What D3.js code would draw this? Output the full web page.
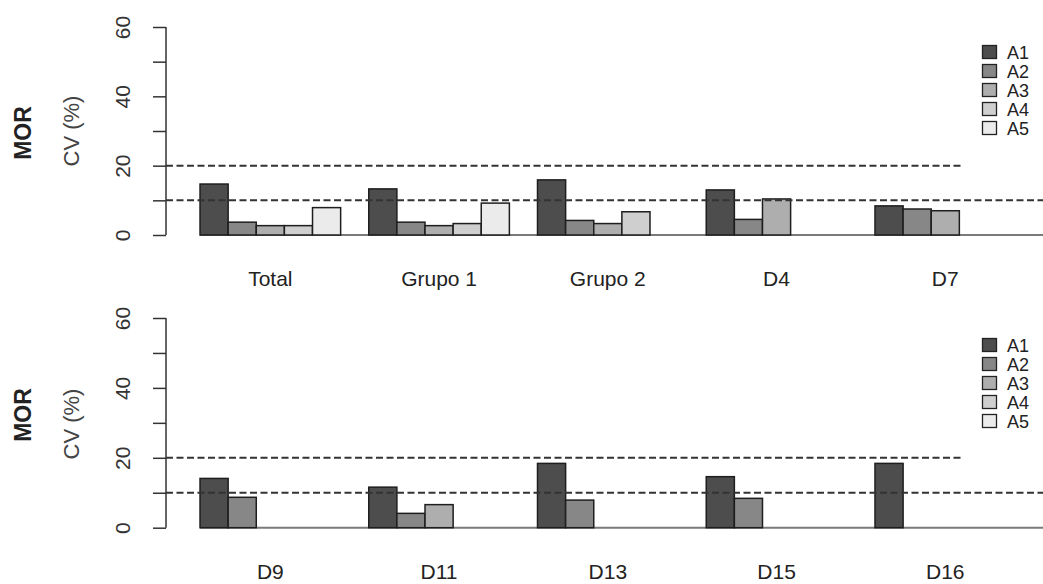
<!DOCTYPE html>
<html>
<head>
<meta charset="utf-8">
<script src="https://cdn.jsdelivr.net/npm/d3@7"></script>
<style>
  html, body { margin: 0; padding: 0; background: #fff; }
  svg { display: block; font-family: "Liberation Sans", Arial, sans-serif; }
</style>
</head>
<body>
<svg id="chart" width="1043" height="584"></svg>
<script>
// Coefficient of variation (%) of MOR by group and series A1–A5
const seriesNames = ["A1", "A2", "A3", "A4", "A5"];
const seriesColors = ["#4d4d4d", "#878787", "#aeaeae", "#cfcfcf", "#ebebeb"];
const yTicks = [0, 10, 20, 30, 40, 50, 60];
const yTickLabels = ["0", "", "20", "", "40", "", "60"];
const refLines = [10, 20];

const categoriesTop = ["Total", "Grupo 1", "Grupo 2", "D4", "D7"];
const a1Top = [14.7, 13.3, 15.9, 13.0, 8.4];
const a2Top = [3.7, 3.7, 4.2, 4.5, 7.5];
const a3Top = [2.7, 2.7, 3.3, 10.4, 7.0];
const a4Top = [2.7, 3.3, 6.7, null, null];
const a5Top = [7.9, 9.2, null, null, null];

const categoriesBottom = ["D9", "D11", "D13", "D15", "D16"];
const a1Bottom = [14.1, 11.6, 18.4, 14.6, 18.4];
const a2Bottom = [8.7, 4.1, 7.9, 8.4, null];
const a3Bottom = [null, 6.6, null, null, null];
const a4Bottom = [null, null, null, null, null];
const a5Bottom = [null, null, null, null, null];

const svg = d3.select("#chart");

// bar positions in bar-width units: each group is preceded by a one-bar gap
const x = d3.scaleLinear().domain([0, 30]).range([171.9, 1015.6]);

function panel(opts) {
  const { categories, values, y0, y60, ylabelY, morY, legendY } = opts;
  const y = d3.scaleLinear().domain([0, 60]).range([y0, y60]);
  const g = svg.append("g");

  // baseline
  g.append("line")
    .attr("x1", x(1)).attr("x2", 1043)
    .attr("y1", y(0)).attr("y2", y(0))
    .attr("stroke", "#7a7a7a").attr("stroke-width", 2);

  // bars
  const bars = [];
  categories.forEach((c, gi) => {
    seriesNames.forEach((s, si) => {
      const v = values[si][gi];
      if (v != null) bars.push({ gi, si, v });
    });
  });
  g.selectAll("rect.bar").data(bars).enter().append("rect")
    .attr("class", "bar")
    .attr("x", d => x(d.gi * 6 + 1 + d.si))
    .attr("width", x(1) - x(0))
    .attr("y", d => y(d.v))
    .attr("height", d => y(0) - y(d.v))
    .attr("fill", d => seriesColors[d.si])
    .attr("stroke", "#1e1e1e").attr("stroke-width", 1.5);

  // dashed reference lines
  g.selectAll("line.ref").data(refLines).enter().append("line")
    .attr("class", "ref")
    .attr("x1", 166).attr("x2", 1043)
    .attr("y1", d => y(d)).attr("y2", d => y(d))
    .attr("stroke", "#333").attr("stroke-width", 2)
    .attr("stroke-dasharray", "7,3.5");

  // legend with white background
  const lg = g.append("g");
  lg.append("rect")
    .attr("x", 963).attr("y", legendY - 22)
    .attr("width", 80).attr("height", 150)
    .attr("fill", "#fff");
  seriesNames.forEach((s, i) => {
    const cy = legendY + i * 19;
    lg.append("rect")
      .attr("x", 982.5).attr("y", cy - 6.5)
      .attr("width", 14).attr("height", 13)
      .attr("fill", seriesColors[i])
      .attr("stroke", "#222").attr("stroke-width", 1.3);
    lg.append("text")
      .attr("x", 1007).attr("y", cy + 6.5)
      .attr("font-size", 18).attr("fill", "#222")
      .text(s);
  });

  // y axis
  const axis = d3.axisLeft(y).tickValues(yTicks).tickSize(13)
    .tickFormat((d, i) => yTickLabels[i]);
  const ag = g.append("g").attr("transform", "translate(166,0)").call(axis);
  ag.select(".domain").attr("d", `M-0,${y(0)}V${y(60)}`)
    .attr("stroke", "#333").attr("stroke-width", 1.5);
  ag.selectAll(".tick line").attr("stroke", "#333").attr("stroke-width", 1.5);
  ag.selectAll(".tick text")
    .attr("font-size", 21).attr("fill", "#333")
    .attr("font-family", "Liberation Sans, Arial, sans-serif")
    .attr("x", 0).attr("y", 0).attr("dy", 0)
    .attr("text-anchor", "middle")
    .attr("dominant-baseline", "central")
    .attr("transform", "translate(-44,0) rotate(-90)");

  // axis titles
  g.append("text")
    .attr("transform", `translate(71,${ylabelY}) rotate(-90)`)
    .attr("text-anchor", "middle").attr("dominant-baseline", "central")
    .attr("font-size", 22).attr("fill", "#444")
    .text("CV (%)");
  g.append("text")
    .attr("transform", `translate(23,${morY}) rotate(-90)`)
    .attr("text-anchor", "middle").attr("dominant-baseline", "central")
    .attr("font-size", 23).attr("font-weight", "bold").attr("fill", "#222")
    .text("MOR");

  // group labels
  g.selectAll("text.cat").data(categories).enter().append("text")
    .attr("class", "cat")
    .attr("x", (d, i) => x(i * 6 + 1 + 2.5))
    .attr("y", y(0) + 51)
    .attr("text-anchor", "middle")
    .attr("font-size", 21).attr("fill", "#222")
    .text(d => d);
}

panel({
  categories: categoriesTop,
  values: [a1Top, a2Top, a3Top, a4Top, a5Top],
  y0: 235, y60: 27, ylabelY: 131, morY: 133, legendY: 52
});
panel({
  categories: categoriesBottom,
  values: [a1Bottom, a2Bottom, a3Bottom, a4Bottom, a5Bottom],
  y0: 527.7, y60: 318, ylabelY: 424, morY: 415, legendY: 345
});
</script>
</body>
</html>
